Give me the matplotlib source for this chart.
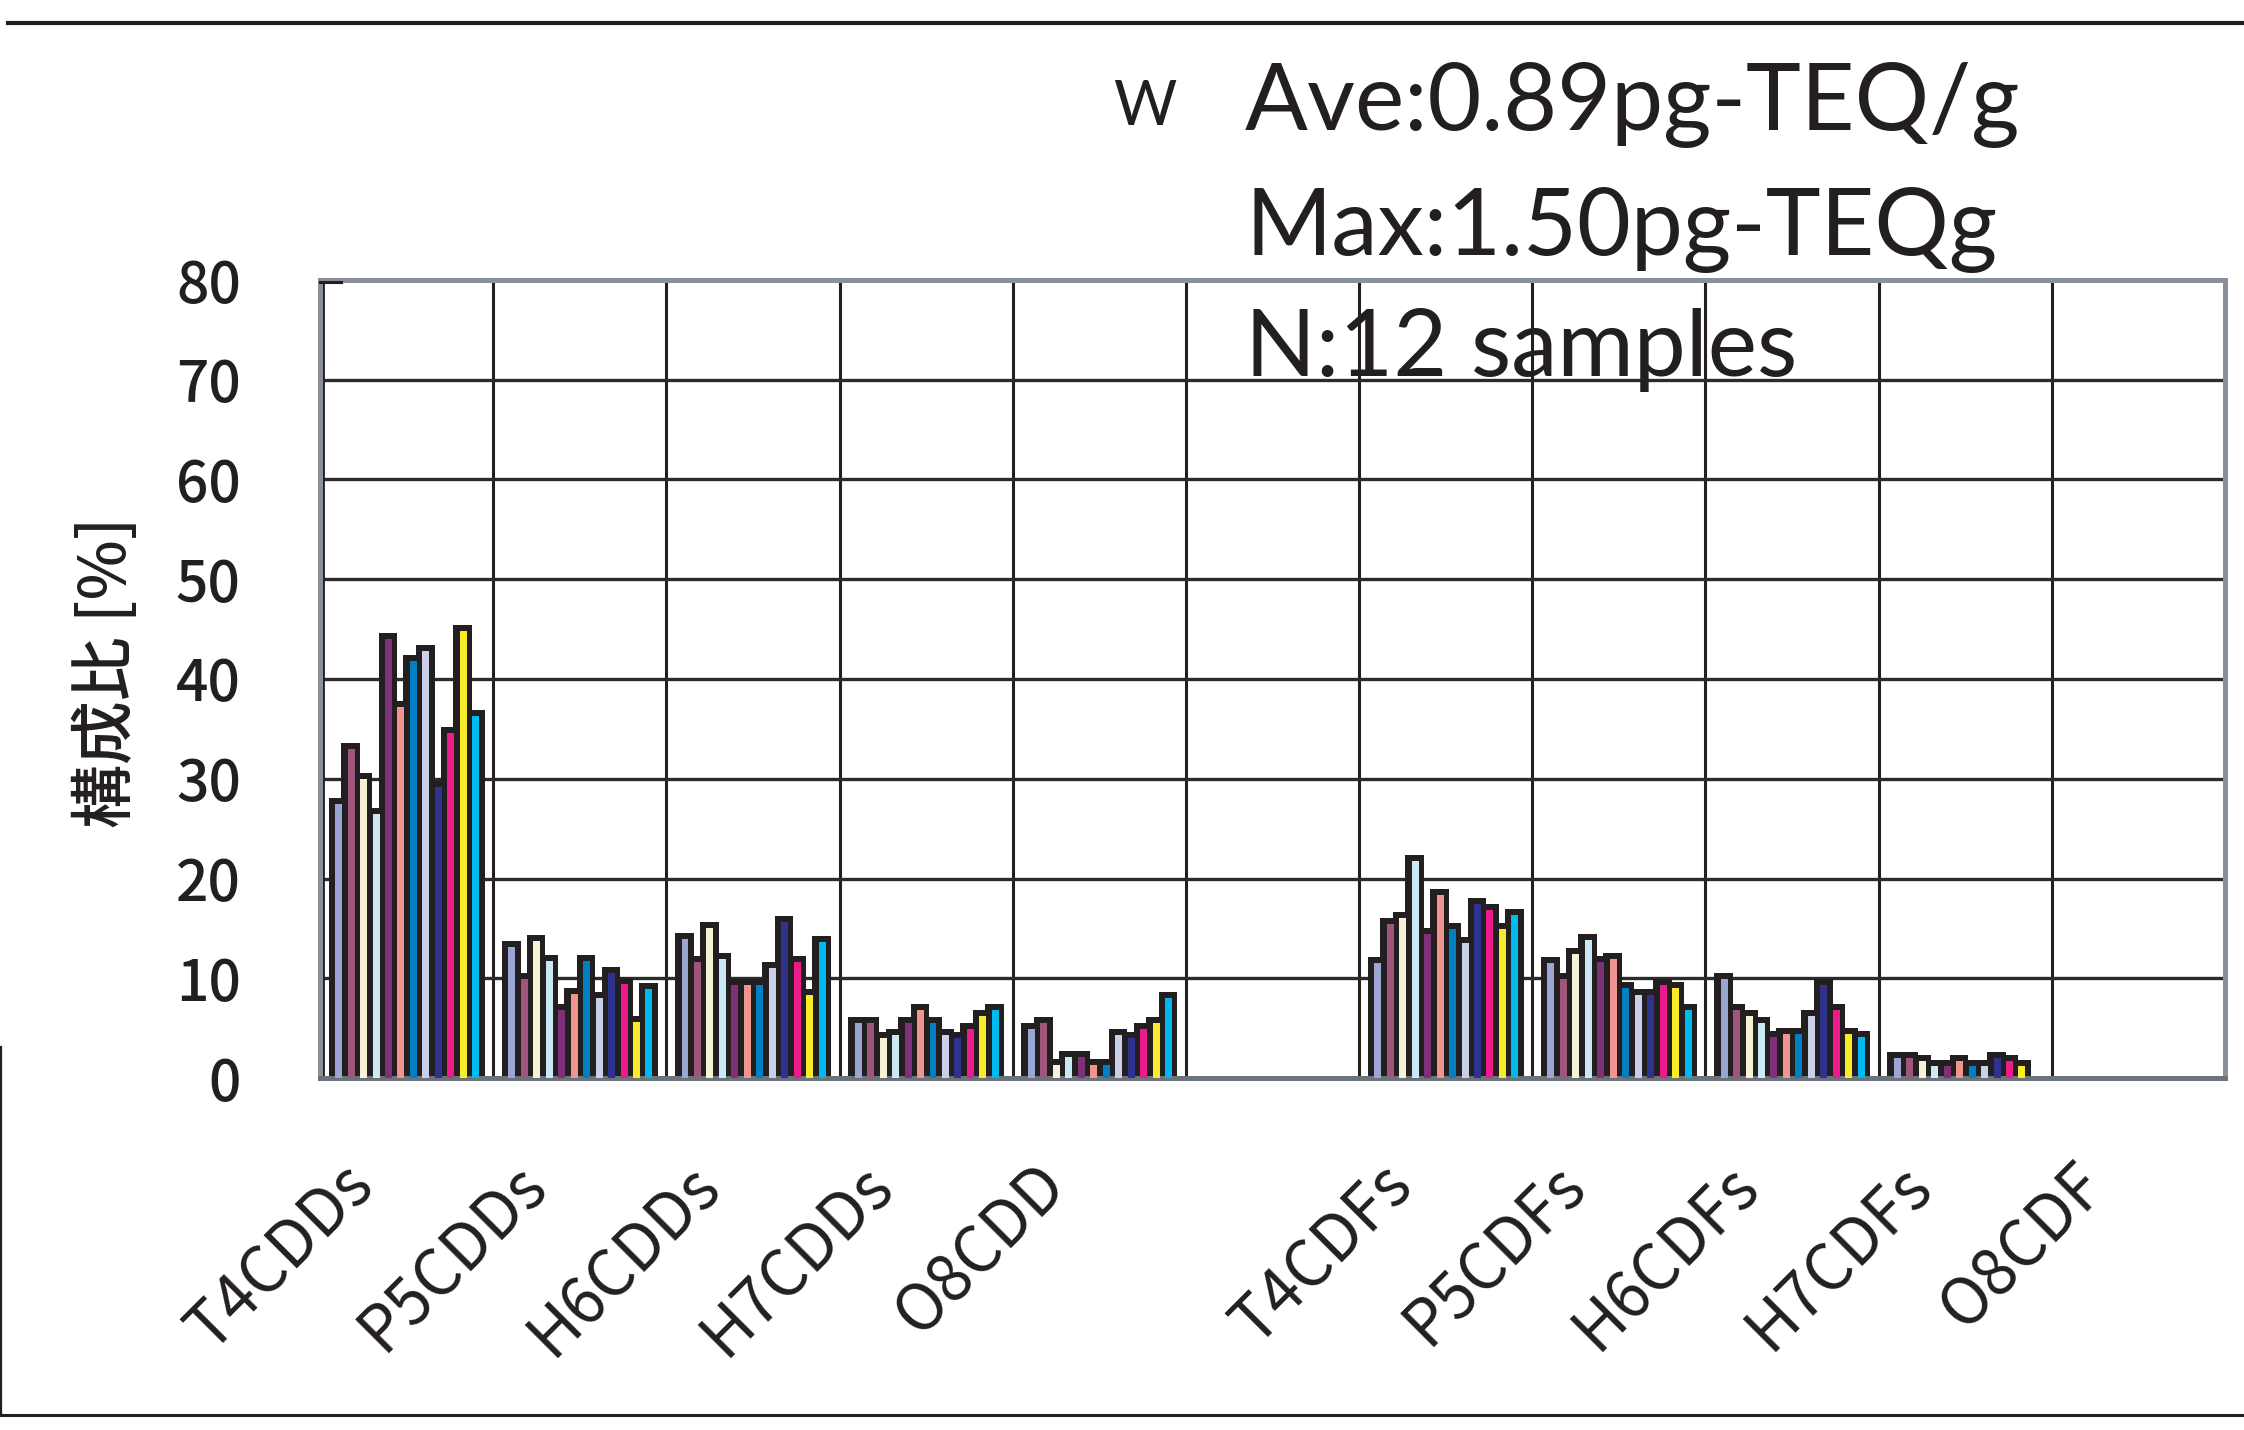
import numpy as np
import matplotlib
matplotlib.use('Agg')
import matplotlib.pyplot as plt
from matplotlib.lines import Line2D

plt.rcParams['font.family'] = ['Noto Sans CJK JP', 'DejaVu Sans']

# congener groups (one empty slot between the PCDD and PCDF blocks)
categories = ['T4CDDs', 'P5CDDs', 'H6CDDs', 'H7CDDs', 'O8CDD', '',
              'T4CDFs', 'P5CDFs', 'H6CDFs', 'H7CDFs', 'O8CDF']

# composition ratio [%] of the 12 samples, per group
t4cdds = [27.5, 33.0, 30.0, 26.5, 44.0, 37.2, 41.8, 42.8, 29.2, 34.6, 44.8, 36.3]
p5cdds = [13.1, 9.9, 13.7, 11.7, 6.8, 8.4, 11.7, 8.0, 10.5, 9.4, 5.6, 8.9]
h6cdds = [13.9, 11.6, 15.0, 11.9, 9.3, 9.3, 9.3, 11.0, 15.6, 11.6, 8.3, 13.6]
h7cdds = [5.5, 5.5, 4.0, 4.3, 5.5, 6.8, 5.5, 4.3, 4.0, 4.9, 6.2, 6.8]
o8cdd = [4.9, 5.5, 1.3, 2.1, 2.1, 1.3, 1.3, 4.3, 4.0, 4.9, 5.5, 8.0]
blank = [0] * 12
t4cdfs = [11.5, 15.4, 16.0, 21.8, 14.4, 18.3, 14.9, 13.5, 17.4, 16.8, 14.9, 16.3]
p5cdfs = [11.5, 9.9, 12.4, 13.8, 11.6, 11.9, 9.0, 8.3, 8.3, 9.3, 9.0, 6.8]
h6cdfs = [9.9, 6.8, 6.2, 5.5, 4.1, 4.4, 4.4, 6.2, 9.3, 6.8, 4.4, 4.1]
h7cdfs = [2.0, 2.0, 1.7, 1.2, 1.2, 1.7, 1.2, 1.2, 2.0, 1.7, 1.2, 0]
o8cdf = [0] * 12

sample_colors = ['#9ba5d3', '#a0567a', '#f5f2d6', '#cbe9f5', '#7e3079', '#f09490',
                 '#0080c2', '#cbd0ea', '#2e3390', '#ec1b8c', '#f7eb2a', '#00b9ef']

yticks = [0, 10, 20, 30, 40, 50, 60, 70, 80]

values = np.array([t4cdds, p5cdds, h6cdds, h7cdds, o8cdd, blank,
                   t4cdfs, p5cdfs, h6cdfs, h7cdfs, o8cdf])

W, H = 2244, 1430
fig = plt.figure(figsize=(W / 100, H / 100), dpi=100)
ax = fig.add_axes([320 / W, 1 - 1078 / H, (2225 - 320) / W, (1078 - 280) / H])

n = values.shape[1]
slot = 0.072
face_w = 0.56 * slot
cap = 0.6
x = np.arange(len(categories))

# dark 3d bodies first, coloured fronts on top
for j in range(n):
    xs = x + (j - (n - 1) / 2) * slot
    h = values[:, j]
    m = h > 0
    ax.bar(xs[m], h[m] + cap, width=1.5 * slot, color='#231f20', linewidth=0, zorder=2)
for j in range(n):
    xs = x + (j - (n - 1) / 2) * slot + 0.05 * slot
    h = values[:, j]
    m = h > 0
    ax.bar(xs[m], h[m], width=face_w, color=sample_colors[j], linewidth=0, zorder=3)

ax.set_xlim(-0.5, len(categories) - 0.5)
ax.set_ylim(0, 80)

ax.set_yticks(yticks)
ax.set_yticklabels([str(v) for v in yticks], fontweight='medium')
ax.tick_params(axis='y', length=0, pad=57, labelsize=41, labelcolor='#231f20')
ax.set_xticks(x)
ax.set_xticklabels([])
ax.tick_params(axis='x', length=0)
ax.set_xticks(x[:-1] + 0.5, minor=True)
ax.tick_params(axis='x', which='minor', length=0)

ax.set_axisbelow(True)
ax.grid(axis='y', which='major', color='#2b2b2b', linewidth=2.4)
ax.grid(axis='x', which='minor', color='#231f20', linewidth=2.2)

for s in ax.spines.values():
    s.set_color('#8a9099')
    s.set_linewidth(3.6)
ax.spines['bottom'].set_color('#6d737a')
ax.axvline(-0.5 + 0.02, color='#231f20', linewidth=2, zorder=1)
ax.plot([-0.5, -0.38], [79.8, 79.8], color='#231f20', linewidth=2.2, clip_on=False, zorder=4)

for i, lab in enumerate(categories):
    ax.text(i - 0.18, -11.0, lab, rotation=45, rotation_mode='anchor',
            ha='right', va='baseline', fontsize=46, color='#231f20', clip_on=False)

fig.text(107 / W, 1 - 672 / H, '構成比 [%]', rotation=90, ha='center', va='center',
         fontsize=46, fontweight='medium', color='#231f20')

fig.text(1113 / W, 1 - 125 / H, 'W', family='Lato', fontsize=44, color='#231f20',
         ha='left', va='baseline')
fig.text(1245 / W, 1 - 130 / H, 'Ave:0.89pg-TEQ/g', family='Lato', fontsize=67,
         color='#231f20', ha='left', va='baseline')
fig.text(1245 / W, 1 - 255 / H, 'Max:1.50pg-TEQg', family='Lato', fontsize=67,
         color='#231f20', ha='left', va='baseline')
fig.text(1245 / W, 1 - 376 / H, 'N:12 samples', family='Lato', fontsize=67,
         color='#231f20', ha='left', va='baseline')

# page border lines from the scanned source
fig.add_artist(Line2D([8 / W, 1], [1 - 23 / H] * 2, color='#231f20', linewidth=3))
fig.add_artist(Line2D([0, 1], [1 - 1415 / H] * 2, color='#231f20', linewidth=2.2))
fig.add_artist(Line2D([1 / W] * 2, [1 - 1047 / H, 1 - 1415 / H], color='#231f20', linewidth=1.6))

fig.savefig('out.png', dpi=100)
